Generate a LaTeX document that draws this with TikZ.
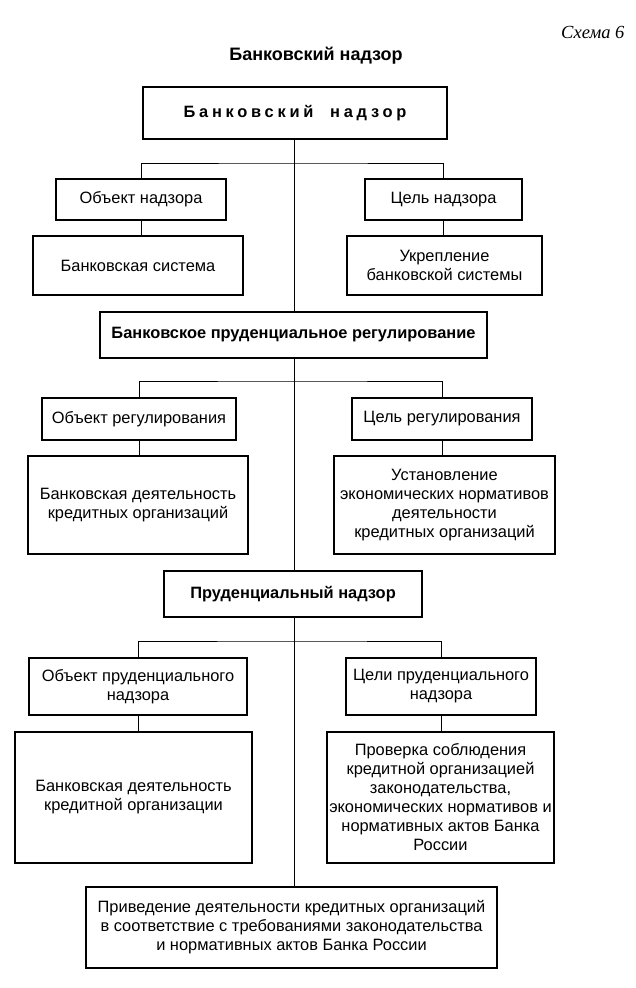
\documentclass[tikz,border=0pt]{standalone}
\usepackage{fontspec}
\setmainfont{Liberation Sans}
\newfontfamily\schemafont{Liberation Serif}
\usetikzlibrary{backgrounds,calc}

\begin{document}
\begin{tikzpicture}[
        %We set the units (one unit is one pixel of the page) and define some styles
        x=1pt, y=-1pt,
        every node/.style={color=black, font=\fontsize{16.4}{19}\selectfont},
        plain box/.style={draw, very thick, fill=white, align=center, inner sep=1pt},
        bold box/.style={plain box, font=\fontsize{16.4}{19}\selectfont\bfseries},
        link line/.style={thick}
     ]
    \useasboundingbox (0,0) rectangle (635,988);
    % Heading
    \node[anchor=east, font=\schemafont\fontsize{18.5}{22}\selectfont\itshape] (scheme_no) at (628,32) {Схема 6};
    \node[font=\fontsize{18}{21}\selectfont\bfseries] (title) at (316,56) {Банковский надзор};
    \node[bold box, minimum width=304pt, minimum height=52pt] (top) at (295,113)
        {\addfontfeature{LetterSpace=23}Банковский~~надзор};

    % First level: supervision
    \node[plain box, minimum width=170pt, minimum height=41pt] (obj_1) at (141,199.5) {Объект надзора};
    \node[plain box, minimum width=157pt, minimum height=41pt] (aim_1) at (443.5,199.5) {Цель надзора};
    \node[plain box, minimum width=210pt, minimum height=59pt] (objd_1) at (138,265.5) {Банковская система};
    \node[plain box, minimum width=195pt, minimum height=59pt] (aimd_1) at (444.5,265.5) {Укрепление\\банковской системы};
    \node[bold box, minimum width=387pt, minimum height=46pt] (reg) at (293.5,335)
        {Банковское пруденциальное регулирование};

    % Second level: regulation
    \node[plain box, minimum width=194pt, minimum height=42pt] (obj_2) at (139,419) {Объект регулирования};
    \node[plain box, minimum width=180pt, minimum height=42pt] (aim_2) at (442,419) {Цель регулирования};
    \node[plain box, minimum width=220pt, minimum height=98pt] (objd_2) at (138,505)
        {Банковская деятельность\\кредитных организаций};
    \node[plain box, minimum width=221pt, minimum height=98pt] (aimd_2) at (444.5,505)
        {Установление\\экономических нормативов\\деятельности\\кредитных организаций};
    \node[bold box, minimum width=258pt, minimum height=46pt] (sup) at (293,594) {Пруденциальный надзор};

    % Third level: prudential supervision
    \node[plain box, minimum width=218pt, minimum height=57pt] (obj_3) at (138,686.5)
        {Объект пруденциального\\надзора};
    \node[plain box, minimum width=190pt, minimum height=57pt] (aim_3) at (441,686.5)
        {Цели пруденциального\\надзора};
    \node[plain box, minimum width=237pt, minimum height=131pt] (objd_3) at (133.5,797.5)
        {Банковская деятельность\\кредитной организации};
    \node[plain box, minimum width=227pt, minimum height=131pt] (aimd_3) at (440.5,797.5)
        {Проверка соблюдения\\кредитной организацией\\законодательства,\\экономических нормативов и\\нормативных актов Банка\\России};
    \node[plain box, minimum width=411pt, minimum height=81pt] (res) at (291.5,927.5)
        {Приведение деятельности кредитных организаций\\в соответствие с требованиями законодательства\\и нормативных актов Банка России};

    % Branch points on the trunk
    \coordinate (bar_1) at (294,163);
    \coordinate (bar_2) at (294,381);
    \coordinate (bar_3) at (294,641);

    \begin{scope}[on background layer]
        % trunk
        \draw[link line] ($(top.south)+(-1,0)$) -- ($(top.south |- res.north)+(-1,0)$);
        % branches
        \draw[link line] (obj_1.north) |- (bar_1) -| (aim_1.north);
        \draw[link line] (obj_2.north) |- (bar_2) -| (aim_2.north);
        \draw[link line] (obj_3.north) |- (bar_3) -| (aim_3.north);
        \draw[link line] (obj_1.south) -- (obj_1.south |- objd_1.north);
        \draw[link line] (aim_1.south) -- (aim_1.south |- aimd_1.north);
        \draw[link line] (obj_2.south) -- (obj_2.south |- objd_2.north);
        \draw[link line] (aim_2.south) -- (aim_2.south |- aimd_2.north);
        \draw[link line] (obj_3.south) -- (obj_3.south |- objd_3.north);
        \draw[link line] (aim_3.south) -- (aim_3.south |- aimd_3.north);
    \end{scope}
\end{tikzpicture}
\end{document}
